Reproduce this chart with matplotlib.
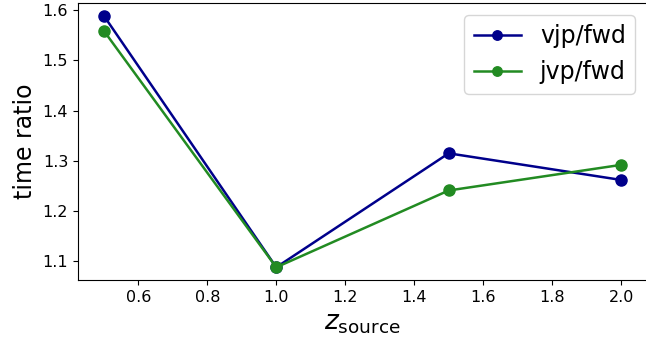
import matplotlib
matplotlib.use("Agg")
import matplotlib.pyplot as plt

z_source = [0.5, 1.0, 1.5, 2.0]
vjp_fwd = [1.589, 1.088, 1.315, 1.262]
jvp_fwd = [1.559, 1.088, 1.241, 1.292]

fig = plt.figure(figsize=(6.46, 3.49), dpi=100)
ax = fig.add_axes([0.1207, 0.198, 0.8808, 0.793])
ax.plot(z_source, vjp_fwd, "o-", color="darkblue", lw=1.8, ms=8, label="vjp/fwd")
ax.plot(z_source, jvp_fwd, "o-", color="forestgreen", lw=1.8, ms=8, label="jvp/fwd")
ax.set_xlabel(r"$z_{\rm source}$", fontsize=19)
ax.set_ylabel("time ratio", fontsize=17)
ax.tick_params(labelsize=11.5)
ax.legend(fontsize=17, loc="upper right", markerscale=0.85)
fig.savefig("out.png", dpi=100)
